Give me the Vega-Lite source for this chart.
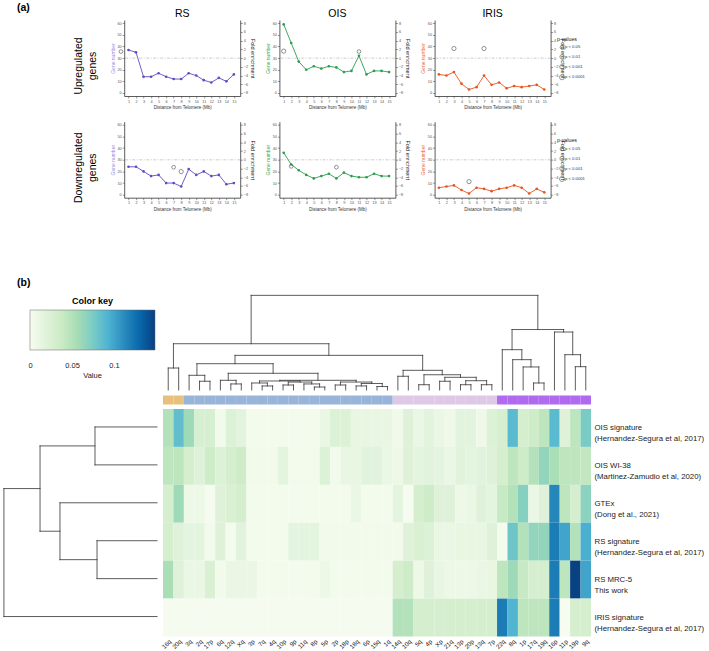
{
"$schema": "https://vega.github.io/schema/vega-lite/v6.json",
"padding": {"left": 0, "top": 2, "right": 0, "bottom": 0},
"config": {
 "view": {"stroke": null},
 "font": "Liberation Sans",
 "title": {"font": "Liberation Sans", "fontWeight": "normal", "color": "#000"},
 "axis": {"labelFont": "Liberation Sans", "titleFont": "Liberation Sans", "labelFontSize": 3.8, "titleFontSize": 5, "titleFontWeight": "normal", "tickSize": 2, "labelPadding": 1, "titlePadding": 1.5, "domainColor": "#333", "domainWidth": 0.8, "tickColor": "#333", "tickWidth": 0.5, "labelColor": "#555", "titleColor": "#333", "grid": false, "labelOverlap": false, "labelFlush": false},
 "legend": {"labelFont": "Liberation Sans", "titleFont": "Liberation Sans"}
},
"datasets": {
 "genes": [
  {"s":"RS","reg":"up","d":1,"g":37},{"s":"RS","reg":"up","d":2,"g":35},{"s":"RS","reg":"up","d":3,"g":14},{"s":"RS","reg":"up","d":4,"g":14},{"s":"RS","reg":"up","d":5,"g":17},{"s":"RS","reg":"up","d":6,"g":14},{"s":"RS","reg":"up","d":7,"g":12},{"s":"RS","reg":"up","d":8,"g":12},{"s":"RS","reg":"up","d":9,"g":17},{"s":"RS","reg":"up","d":10,"g":15},{"s":"RS","reg":"up","d":11,"g":11},{"s":"RS","reg":"up","d":12,"g":9},{"s":"RS","reg":"up","d":13,"g":13},{"s":"RS","reg":"up","d":14,"g":10},{"s":"RS","reg":"up","d":15,"g":16},
  {"s":"OIS","reg":"up","d":1,"g":59},{"s":"OIS","reg":"up","d":2,"g":43},{"s":"OIS","reg":"up","d":3,"g":27},{"s":"OIS","reg":"up","d":4,"g":20},{"s":"OIS","reg":"up","d":5,"g":23},{"s":"OIS","reg":"up","d":6,"g":21},{"s":"OIS","reg":"up","d":7,"g":23},{"s":"OIS","reg":"up","d":8,"g":22},{"s":"OIS","reg":"up","d":9,"g":18},{"s":"OIS","reg":"up","d":10,"g":19},{"s":"OIS","reg":"up","d":11,"g":32},{"s":"OIS","reg":"up","d":12,"g":16},{"s":"OIS","reg":"up","d":13,"g":19},{"s":"OIS","reg":"up","d":14,"g":19},{"s":"OIS","reg":"up","d":15,"g":18},
  {"s":"IRIS","reg":"up","d":1,"g":16},{"s":"IRIS","reg":"up","d":2,"g":15},{"s":"IRIS","reg":"up","d":3,"g":18},{"s":"IRIS","reg":"up","d":4,"g":8},{"s":"IRIS","reg":"up","d":5,"g":3},{"s":"IRIS","reg":"up","d":6,"g":5},{"s":"IRIS","reg":"up","d":7,"g":15},{"s":"IRIS","reg":"up","d":8,"g":7},{"s":"IRIS","reg":"up","d":9,"g":9},{"s":"IRIS","reg":"up","d":10,"g":4},{"s":"IRIS","reg":"up","d":11,"g":6},{"s":"IRIS","reg":"up","d":12,"g":5},{"s":"IRIS","reg":"up","d":13,"g":6},{"s":"IRIS","reg":"up","d":14,"g":7},{"s":"IRIS","reg":"up","d":15,"g":3},
  {"s":"RS","reg":"down","d":1,"g":24},{"s":"RS","reg":"down","d":2,"g":24},{"s":"RS","reg":"down","d":3,"g":20},{"s":"RS","reg":"down","d":4,"g":16},{"s":"RS","reg":"down","d":5,"g":17},{"s":"RS","reg":"down","d":6,"g":10},{"s":"RS","reg":"down","d":7,"g":10},{"s":"RS","reg":"down","d":8,"g":7},{"s":"RS","reg":"down","d":9,"g":22},{"s":"RS","reg":"down","d":10,"g":17},{"s":"RS","reg":"down","d":11,"g":20},{"s":"RS","reg":"down","d":12,"g":16},{"s":"RS","reg":"down","d":13,"g":17},{"s":"RS","reg":"down","d":14,"g":9},{"s":"RS","reg":"down","d":15,"g":10},
  {"s":"OIS","reg":"down","d":1,"g":36},{"s":"OIS","reg":"down","d":2,"g":26},{"s":"OIS","reg":"down","d":3,"g":21},{"s":"OIS","reg":"down","d":4,"g":17},{"s":"OIS","reg":"down","d":5,"g":14},{"s":"OIS","reg":"down","d":6,"g":16},{"s":"OIS","reg":"down","d":7,"g":18},{"s":"OIS","reg":"down","d":8,"g":14},{"s":"OIS","reg":"down","d":9,"g":19},{"s":"OIS","reg":"down","d":10,"g":16},{"s":"OIS","reg":"down","d":11,"g":15},{"s":"OIS","reg":"down","d":12,"g":15},{"s":"OIS","reg":"down","d":13,"g":18},{"s":"OIS","reg":"down","d":14,"g":16},{"s":"OIS","reg":"down","d":15,"g":16},
  {"s":"IRIS","reg":"down","d":1,"g":6},{"s":"IRIS","reg":"down","d":2,"g":7},{"s":"IRIS","reg":"down","d":3,"g":8},{"s":"IRIS","reg":"down","d":4,"g":4},{"s":"IRIS","reg":"down","d":5,"g":1},{"s":"IRIS","reg":"down","d":6,"g":6},{"s":"IRIS","reg":"down","d":7,"g":5},{"s":"IRIS","reg":"down","d":8,"g":3},{"s":"IRIS","reg":"down","d":9,"g":5},{"s":"IRIS","reg":"down","d":10,"g":6},{"s":"IRIS","reg":"down","d":11,"g":8},{"s":"IRIS","reg":"down","d":12,"g":6},{"s":"IRIS","reg":"down","d":13,"g":1},{"s":"IRIS","reg":"down","d":14,"g":5},{"s":"IRIS","reg":"down","d":15,"g":2}
 ],
 "pv": [
  {"s":"RS","reg":"up","d":0,"f":1.5,"p":"p < 0.05"},
  {"s":"OIS","reg":"up","d":1,"f":1.6,"p":"p < 0.01"},
  {"s":"OIS","reg":"up","d":11,"f":1.5,"p":"p < 0.05"},
  {"s":"IRIS","reg":"up","d":3,"f":2.2,"p":"p < 0.01"},
  {"s":"IRIS","reg":"up","d":7,"f":2.2,"p":"p < 0.01"},
  {"s":"RS","reg":"down","d":7,"f":-1.7,"p":"p < 0.05"},
  {"s":"RS","reg":"down","d":8,"f":-2.7,"p":"p < 0.01"},
  {"s":"OIS","reg":"down","d":2,"f":-1.5,"p":"p < 0.05"},
  {"s":"OIS","reg":"down","d":8,"f":-1.7,"p":"p < 0.05"},
  {"s":"IRIS","reg":"down","d":5,"f":-5.0,"p":"p < 0.01"}
 ],
 "arms": [
  {"c":"16q","grp":"A"},{"c":"20q","grp":"A"},
  {"c":"3q","grp":"B"},{"c":"2q","grp":"B"},{"c":"17p","grp":"B"},{"c":"6q","grp":"B"},{"c":"12q","grp":"B"},{"c":"Xq","grp":"B"},{"c":"3p","grp":"B"},{"c":"7q","grp":"B"},{"c":"4q","grp":"B"},{"c":"10p","grp":"B"},{"c":"9p","grp":"B"},{"c":"11q","grp":"B"},{"c":"8p","grp":"B"},{"c":"5p","grp":"B"},{"c":"2p","grp":"B"},{"c":"18p","grp":"B"},{"c":"18q","grp":"B"},{"c":"6p","grp":"B"},{"c":"15q","grp":"B"},{"c":"1q","grp":"B"},
  {"c":"14q","grp":"C"},{"c":"10q","grp":"C"},{"c":"5q","grp":"C"},{"c":"4p","grp":"C"},{"c":"Xp","grp":"C"},{"c":"21q","grp":"C"},{"c":"13p","grp":"C"},{"c":"20p","grp":"C"},{"c":"13q","grp":"C"},{"c":"7p","grp":"C"},
  {"c":"22q","grp":"D"},{"c":"8q","grp":"D"},{"c":"1p","grp":"D"},{"c":"17q","grp":"D"},{"c":"19q","grp":"D"},{"c":"16p","grp":"D"},{"c":"11p","grp":"D"},{"c":"19p","grp":"D"},{"c":"9q","grp":"D"}
 ],
 "heat": [
  {"r":"OIS signature","c":"16q","v":0.05},{"r":"OIS signature","c":"20q","v":0.085},{"r":"OIS signature","c":"3q","v":0.06},{"r":"OIS signature","c":"2q","v":0.028},{"r":"OIS signature","c":"17p","v":0.028},{"r":"OIS signature","c":"6q","v":0.004},{"r":"OIS signature","c":"12q","v":0.022},{"r":"OIS signature","c":"Xq","v":0.017},{"r":"OIS signature","c":"3p","v":0.003},{"r":"OIS signature","c":"7q","v":0.003},{"r":"OIS signature","c":"4q","v":0.003},{"r":"OIS signature","c":"10p","v":0.003},{"r":"OIS signature","c":"9p","v":0.003},{"r":"OIS signature","c":"11q","v":0.003},{"r":"OIS signature","c":"8p","v":0.003},{"r":"OIS signature","c":"5p","v":0.01},{"r":"OIS signature","c":"2p","v":0.022},{"r":"OIS signature","c":"18p","v":0.022},{"r":"OIS signature","c":"18q","v":0.012},{"r":"OIS signature","c":"6p","v":0.012},{"r":"OIS signature","c":"15q","v":0.012},{"r":"OIS signature","c":"1q","v":0.012},{"r":"OIS signature","c":"14q","v":0.005},{"r":"OIS signature","c":"10q","v":0.02},{"r":"OIS signature","c":"5q","v":0.011},{"r":"OIS signature","c":"4p","v":0.016},{"r":"OIS signature","c":"Xp","v":0.01},{"r":"OIS signature","c":"21q","v":0.006},{"r":"OIS signature","c":"13p","v":0.016},{"r":"OIS signature","c":"20p","v":0.016},{"r":"OIS signature","c":"13q","v":0.006},{"r":"OIS signature","c":"7p","v":0.022},{"r":"OIS signature","c":"22q","v":0.028},{"r":"OIS signature","c":"8q","v":0.088},{"r":"OIS signature","c":"1p","v":0.03},{"r":"OIS signature","c":"17q","v":0.035},{"r":"OIS signature","c":"19q","v":0.045},{"r":"OIS signature","c":"16p","v":0.088},{"r":"OIS signature","c":"11p","v":0.02},{"r":"OIS signature","c":"19p","v":0.045},{"r":"OIS signature","c":"9q","v":0.075},
  {"r":"OIS WI-38","c":"16q","v":0.045},{"r":"OIS WI-38","c":"20q","v":0.045},{"r":"OIS WI-38","c":"3q","v":0.03},{"r":"OIS WI-38","c":"2q","v":0.02},{"r":"OIS WI-38","c":"17p","v":0.035},{"r":"OIS WI-38","c":"6q","v":0.022},{"r":"OIS WI-38","c":"12q","v":0.03},{"r":"OIS WI-38","c":"Xq","v":0.035},{"r":"OIS WI-38","c":"3p","v":0.004},{"r":"OIS WI-38","c":"7q","v":0.004},{"r":"OIS WI-38","c":"4q","v":0.004},{"r":"OIS WI-38","c":"10p","v":0.015},{"r":"OIS WI-38","c":"9p","v":0.004},{"r":"OIS WI-38","c":"11q","v":0.004},{"r":"OIS WI-38","c":"8p","v":0.004},{"r":"OIS WI-38","c":"5p","v":0.022},{"r":"OIS WI-38","c":"2p","v":0.004},{"r":"OIS WI-38","c":"18p","v":0.012},{"r":"OIS WI-38","c":"18q","v":0.012},{"r":"OIS WI-38","c":"6p","v":0.018},{"r":"OIS WI-38","c":"15q","v":0.018},{"r":"OIS WI-38","c":"1q","v":0.01},{"r":"OIS WI-38","c":"14q","v":0.008},{"r":"OIS WI-38","c":"10q","v":0.02},{"r":"OIS WI-38","c":"5q","v":0.015},{"r":"OIS WI-38","c":"4p","v":0.018},{"r":"OIS WI-38","c":"Xp","v":0.015},{"r":"OIS WI-38","c":"21q","v":0.01},{"r":"OIS WI-38","c":"13p","v":0.018},{"r":"OIS WI-38","c":"20p","v":0.015},{"r":"OIS WI-38","c":"13q","v":0.018},{"r":"OIS WI-38","c":"7p","v":0.02},{"r":"OIS WI-38","c":"22q","v":0.03},{"r":"OIS WI-38","c":"8q","v":0.045},{"r":"OIS WI-38","c":"1p","v":0.035},{"r":"OIS WI-38","c":"17q","v":0.05},{"r":"OIS WI-38","c":"19q","v":0.065},{"r":"OIS WI-38","c":"16p","v":0.055},{"r":"OIS WI-38","c":"11p","v":0.045},{"r":"OIS WI-38","c":"19p","v":0.045},{"r":"OIS WI-38","c":"9q","v":0.042},
  {"r":"GTEx","c":"16q","v":0.03},{"r":"GTEx","c":"20q","v":0.06},{"r":"GTEx","c":"3q","v":0.008},{"r":"GTEx","c":"2q","v":0.008},{"r":"GTEx","c":"17p","v":0.002},{"r":"GTEx","c":"6q","v":0.02},{"r":"GTEx","c":"12q","v":0.025},{"r":"GTEx","c":"Xq","v":0.03},{"r":"GTEx","c":"3p","v":0.003},{"r":"GTEx","c":"7q","v":0.003},{"r":"GTEx","c":"4q","v":0.003},{"r":"GTEx","c":"10p","v":0.003},{"r":"GTEx","c":"9p","v":0.003},{"r":"GTEx","c":"11q","v":0.003},{"r":"GTEx","c":"8p","v":0.003},{"r":"GTEx","c":"5p","v":0.003},{"r":"GTEx","c":"2p","v":0.003},{"r":"GTEx","c":"18p","v":0.003},{"r":"GTEx","c":"18q","v":0.01},{"r":"GTEx","c":"6p","v":0.003},{"r":"GTEx","c":"15q","v":0.003},{"r":"GTEx","c":"1q","v":0.003},{"r":"GTEx","c":"14q","v":0.015},{"r":"GTEx","c":"10q","v":0.002},{"r":"GTEx","c":"5q","v":0.03},{"r":"GTEx","c":"4p","v":0.035},{"r":"GTEx","c":"Xp","v":0.02},{"r":"GTEx","c":"21q","v":0.02},{"r":"GTEx","c":"13p","v":0.008},{"r":"GTEx","c":"20p","v":0.01},{"r":"GTEx","c":"13q","v":0.02},{"r":"GTEx","c":"7p","v":0.015},{"r":"GTEx","c":"22q","v":0.04},{"r":"GTEx","c":"8q","v":0.05},{"r":"GTEx","c":"1p","v":0.07},{"r":"GTEx","c":"17q","v":0.01},{"r":"GTEx","c":"19q","v":0.02},{"r":"GTEx","c":"16p","v":0.115},{"r":"GTEx","c":"11p","v":0.045},{"r":"GTEx","c":"19p","v":0.03},{"r":"GTEx","c":"9q","v":0.068},
  {"r":"RS signature","c":"16q","v":0.03},{"r":"RS signature","c":"20q","v":0.02},{"r":"RS signature","c":"3q","v":0.015},{"r":"RS signature","c":"2q","v":0.015},{"r":"RS signature","c":"17p","v":0.004},{"r":"RS signature","c":"6q","v":0.02},{"r":"RS signature","c":"12q","v":0.003},{"r":"RS signature","c":"Xq","v":0.018},{"r":"RS signature","c":"3p","v":0.003},{"r":"RS signature","c":"7q","v":0.003},{"r":"RS signature","c":"4q","v":0.003},{"r":"RS signature","c":"10p","v":0.003},{"r":"RS signature","c":"9p","v":0.015},{"r":"RS signature","c":"11q","v":0.015},{"r":"RS signature","c":"8p","v":0.015},{"r":"RS signature","c":"5p","v":0.004},{"r":"RS signature","c":"2p","v":0.004},{"r":"RS signature","c":"18p","v":0.004},{"r":"RS signature","c":"18q","v":0.004},{"r":"RS signature","c":"6p","v":0.004},{"r":"RS signature","c":"15q","v":0.004},{"r":"RS signature","c":"1q","v":0.004},{"r":"RS signature","c":"14q","v":0.004},{"r":"RS signature","c":"10q","v":0.02},{"r":"RS signature","c":"5q","v":0.025},{"r":"RS signature","c":"4p","v":0.022},{"r":"RS signature","c":"Xp","v":0.01},{"r":"RS signature","c":"21q","v":0.01},{"r":"RS signature","c":"13p","v":0.012},{"r":"RS signature","c":"20p","v":0.012},{"r":"RS signature","c":"13q","v":0.012},{"r":"RS signature","c":"7p","v":0.02},{"r":"RS signature","c":"22q","v":0.003},{"r":"RS signature","c":"8q","v":0.08},{"r":"RS signature","c":"1p","v":0.05},{"r":"RS signature","c":"17q","v":0.065},{"r":"RS signature","c":"19q","v":0.065},{"r":"RS signature","c":"16p","v":0.12},{"r":"RS signature","c":"11p","v":0.1},{"r":"RS signature","c":"19p","v":0.05},{"r":"RS signature","c":"9q","v":0.095},
  {"r":"RS MRC-5","c":"16q","v":0.055},{"r":"RS MRC-5","c":"20q","v":0.02},{"r":"RS MRC-5","c":"3q","v":0.01},{"r":"RS MRC-5","c":"2q","v":0.01},{"r":"RS MRC-5","c":"17p","v":0.025},{"r":"RS MRC-5","c":"6q","v":0.004},{"r":"RS MRC-5","c":"12q","v":0.01},{"r":"RS MRC-5","c":"Xq","v":0.01},{"r":"RS MRC-5","c":"3p","v":0.01},{"r":"RS MRC-5","c":"7q","v":0.003},{"r":"RS MRC-5","c":"4q","v":0.003},{"r":"RS MRC-5","c":"10p","v":0.003},{"r":"RS MRC-5","c":"9p","v":0.003},{"r":"RS MRC-5","c":"11q","v":0.003},{"r":"RS MRC-5","c":"8p","v":0.003},{"r":"RS MRC-5","c":"5p","v":0.008},{"r":"RS MRC-5","c":"2p","v":0.003},{"r":"RS MRC-5","c":"18p","v":0.003},{"r":"RS MRC-5","c":"18q","v":0.003},{"r":"RS MRC-5","c":"6p","v":0.003},{"r":"RS MRC-5","c":"15q","v":0.003},{"r":"RS MRC-5","c":"1q","v":0.003},{"r":"RS MRC-5","c":"14q","v":0.03},{"r":"RS MRC-5","c":"10q","v":0.035},{"r":"RS MRC-5","c":"5q","v":0.008},{"r":"RS MRC-5","c":"4p","v":0.02},{"r":"RS MRC-5","c":"Xp","v":0.012},{"r":"RS MRC-5","c":"21q","v":0.008},{"r":"RS MRC-5","c":"13p","v":0.008},{"r":"RS MRC-5","c":"20p","v":0.008},{"r":"RS MRC-5","c":"13q","v":0.01},{"r":"RS MRC-5","c":"7p","v":0.012},{"r":"RS MRC-5","c":"22q","v":0.045},{"r":"RS MRC-5","c":"8q","v":0.06},{"r":"RS MRC-5","c":"1p","v":0.04},{"r":"RS MRC-5","c":"17q","v":0.03},{"r":"RS MRC-5","c":"19q","v":0.03},{"r":"RS MRC-5","c":"16p","v":0.12},{"r":"RS MRC-5","c":"11p","v":0.045},{"r":"RS MRC-5","c":"19p","v":0.148},{"r":"RS MRC-5","c":"9q","v":0.1},
  {"r":"IRIS signature","c":"16q","v":0.002},{"r":"IRIS signature","c":"20q","v":0.002},{"r":"IRIS signature","c":"3q","v":0.002},{"r":"IRIS signature","c":"2q","v":0.002},{"r":"IRIS signature","c":"17p","v":0.002},{"r":"IRIS signature","c":"6q","v":0.002},{"r":"IRIS signature","c":"12q","v":0.002},{"r":"IRIS signature","c":"Xq","v":0.002},{"r":"IRIS signature","c":"3p","v":0.002},{"r":"IRIS signature","c":"7q","v":0.002},{"r":"IRIS signature","c":"4q","v":0.002},{"r":"IRIS signature","c":"10p","v":0.002},{"r":"IRIS signature","c":"9p","v":0.002},{"r":"IRIS signature","c":"11q","v":0.002},{"r":"IRIS signature","c":"8p","v":0.002},{"r":"IRIS signature","c":"5p","v":0.002},{"r":"IRIS signature","c":"2p","v":0.002},{"r":"IRIS signature","c":"18p","v":0.002},{"r":"IRIS signature","c":"18q","v":0.002},{"r":"IRIS signature","c":"6p","v":0.002},{"r":"IRIS signature","c":"15q","v":0.002},{"r":"IRIS signature","c":"1q","v":0.002},{"r":"IRIS signature","c":"14q","v":0.05},{"r":"IRIS signature","c":"10q","v":0.05},{"r":"IRIS signature","c":"5q","v":0.03},{"r":"IRIS signature","c":"4p","v":0.03},{"r":"IRIS signature","c":"Xp","v":0.03},{"r":"IRIS signature","c":"21q","v":0.03},{"r":"IRIS signature","c":"13p","v":0.03},{"r":"IRIS signature","c":"20p","v":0.03},{"r":"IRIS signature","c":"13q","v":0.03},{"r":"IRIS signature","c":"7p","v":0.03},{"r":"IRIS signature","c":"22q","v":0.12},{"r":"IRIS signature","c":"8q","v":0.092},{"r":"IRIS signature","c":"1p","v":0.045},{"r":"IRIS signature","c":"17q","v":0.045},{"r":"IRIS signature","c":"19q","v":0.045},{"r":"IRIS signature","c":"16p","v":0.12},{"r":"IRIS signature","c":"11p","v":0.001},{"r":"IRIS signature","c":"19p","v":0.03},{"r":"IRIS signature","c":"9q","v":0.03}
 ],
 "cden": [
  {"xl":1,"xr":2,"h":0.229,"hl":0,"hr":0},
  {"xl":4,"xr":5,"h":0.091,"hl":0,"hr":0},
  {"xl":3,"xr":4.5,"h":0.153,"hl":0,"hr":0.091},
  {"xl":7,"xr":8,"h":0.063,"hl":0,"hr":0},
  {"xl":6,"xr":7.5,"h":0.101,"hl":0,"hr":0.063},
  {"xl":10,"xr":11,"h":0.042,"hl":0,"hr":0},
  {"xl":9,"xr":10.5,"h":0.073,"hl":0,"hr":0.042},
  {"xl":12,"xr":13,"h":0.052,"hl":0,"hr":0},
  {"xl":15,"xr":16,"h":0.031,"hl":0,"hr":0},
  {"xl":14,"xr":15.5,"h":0.063,"hl":0,"hr":0.031},
  {"xl":12.5,"xr":14.75,"h":0.083,"hl":0.052,"hr":0.063},
  {"xl":9.75,"xr":13.625,"h":0.094,"hl":0.073,"hr":0.083},
  {"xl":17,"xr":18,"h":0.052,"hl":0,"hr":0},
  {"xl":19,"xr":20,"h":0.042,"hl":0,"hr":0},
  {"xl":21,"xr":22,"h":0.036,"hl":0,"hr":0},
  {"xl":19.5,"xr":21.5,"h":0.068,"hl":0.042,"hr":0.036},
  {"xl":17.5,"xr":20.5,"h":0.083,"hl":0.052,"hr":0.068},
  {"xl":11.6875,"xr":19,"h":0.101,"hl":0.094,"hr":0.083},
  {"xl":6.75,"xr":15.34375,"h":0.174,"hl":0.101,"hr":0.101},
  {"xl":3.75,"xr":11.046875,"h":0.274,"hl":0.153,"hr":0.174},
  {"xl":23,"xr":24,"h":0.143,"hl":0,"hr":0},
  {"xl":25,"xr":26,"h":0.055,"hl":0,"hr":0},
  {"xl":27,"xr":28,"h":0.091,"hl":0,"hr":0},
  {"xl":29,"xr":30,"h":0.055,"hl":0,"hr":0},
  {"xl":31,"xr":32,"h":0.055,"hl":0,"hr":0},
  {"xl":29.5,"xr":31.5,"h":0.097,"hl":0.055,"hr":0.055},
  {"xl":27.5,"xr":30.5,"h":0.132,"hl":0.091,"hr":0.097},
  {"xl":25.5,"xr":29,"h":0.159,"hl":0.055,"hr":0.132},
  {"xl":23.5,"xr":27.25,"h":0.205,"hl":0.143,"hr":0.159},
  {"xl":7.3984,"xr":25.375,"h":0.361,"hl":0.274,"hr":0.205},
  {"xl":1.5,"xr":16.3867,"h":0.482,"hl":0.229,"hr":0.361},
  {"xl":36,"xr":37,"h":0.073,"hl":0,"hr":0},
  {"xl":35,"xr":36.5,"h":0.24,"hl":0,"hr":0.073},
  {"xl":34,"xr":35.75,"h":0.316,"hl":0,"hr":0.24},
  {"xl":33,"xr":34.875,"h":0.42,"hl":0,"hr":0.316},
  {"xl":40,"xr":41,"h":0.243,"hl":0,"hr":0},
  {"xl":39,"xr":40.5,"h":0.368,"hl":0,"hr":0.243},
  {"xl":38,"xr":39.75,"h":0.604,"hl":0,"hr":0.368},
  {"xl":33.9375,"xr":38.875,"h":0.63,"hl":0.42,"hr":0.604},
  {"xl":8.9434,"xr":36.40625,"h":0.986,"hl":0.482,"hr":0.63}
 ],
 "rden": [
  {"yl":1,"yr":2,"h":0.395,"hl":0,"hr":0},
  {"yl":4,"yr":5,"h":0.382,"hl":0,"hr":0},
  {"yl":3,"yr":4.5,"h":0.618,"hl":0,"hr":0.382},
  {"yl":1.5,"yr":3.75,"h":0.745,"hl":0.395,"hr":0.618},
  {"yl":2.625,"yr":6,"h":0.975,"hl":0.745,"hr":0}
 ]
},
"vconcat": [
 {
  "vconcat": [
   {
    "hconcat": [
     {"width": 84.2, "height": 92,
      "title": {"text": "(a)", "anchor": "start", "dx": 17, "fontSize": 10.5, "fontWeight": "bold", "offset": 7},
      "data": {"values": [{"t": "Upregulated genes"}]},
      "mark": {"type": "text", "angle": 270, "baseline": "bottom", "align": "center", "lineBreak": " ", "fontSize": 10.5, "lineHeight": 14, "color": "#000"},
      "encoding": {"text": {"field": "t"}, "x": {"value": "width"}}},
     {"width": 116, "height": 76, "title": {"text": "RS", "fontSize": 10.5, "offset": 1},
      "layer": [
       {"data": {"name": "genes"}, "transform": [{"filter": "datum.s=='RS' && datum.reg=='up'"}],
        "mark": {"type": "line", "color": "#5B4EC2", "strokeWidth": 0.9, "point": {"filled": true, "size": 7, "color": "#5B4EC2"}},
        "encoding": {"x": {"field": "d", "type": "quantitative", "scale": {"domain": [0.43, 15.84], "nice": false, "zero": false}, "axis": {"values": [1,2,3,4,5,6,7,8,9,10,11,12,13,14,15], "title": "Distance from Telomere (Mb)", "titleFontSize": 4.5}},
                     "y": {"field": "g", "type": "quantitative", "scale": {"domain": [-2.6, 62.8], "nice": false, "zero": false}, "axis": {"values": [0,10,20,30,40,50,60], "title": "Gene number", "titleColor": "#9B8EE0"}}}},
       {"layer": [
         {"data": {"values": [{"f": 0}]}, "mark": {"type": "rule", "color": "#aaa", "strokeWidth": 0.6, "strokeDash": [3, 1.5, 1, 1.5]},
          "encoding": {"y": {"field": "f", "type": "quantitative", "scale": {"domain": [-8.693, 8.747], "nice": false, "zero": false}, "axis": {"orient": "right", "values": [-8,-6,-4,-2,0,2,4,6,8], "title": "Fold enrichment", "titleColor": "#111", "titleFontSize": 5.5}}}},
         {"data": {"name": "pv"}, "transform": [{"filter": "datum.s=='RS' && datum.reg=='up'"}],
          "mark": {"type": "point", "shape": "circle", "filled": false, "color": "#666", "strokeWidth": 0.7, "opacity": 1},
          "encoding": {"x": {"field": "d", "type": "quantitative", "scale": {"domain": [0.43, 15.84], "nice": false, "zero": false}, "axis": {"values": [1,2,3,4,5,6,7,8,9,10,11,12,13,14,15], "title": "Distance from Telomere (Mb)", "titleFontSize": 4.5}},
                       "y": {"field": "f", "type": "quantitative", "scale": {"domain": [-8.693, 8.747], "nice": false, "zero": false}, "axis": {"orient": "right", "values": [-8,-6,-4,-2,0,2,4,6,8], "title": "Fold enrichment", "titleColor": "#111", "titleFontSize": 5.5}},
                       "size": {"field": "p", "type": "ordinal", "scale": {"domain": ["p < 0.05","p < 0.01","p < 0.001","p < 0.0001"], "range": [14, 25, 45, 100]},
                                "legend": {"title": "p-values", "orient": "none", "legendX": 557, "legendY": 16.5, "titleFontSize": 5.3, "titleFontWeight": "normal", "titleColor": "#222", "labelFontSize": 4.2, "labelColor": "#333", "symbolStrokeColor": "#555", "symbolStrokeWidth": 0.6, "symbolFillColor": "transparent", "symbolType": "circle", "symbolOffset": 2, "labelOffset": 0, "rowPadding": 2.5, "titlePadding": 3}}}}
       ]}
      ],
      "resolve": {"scale": {"y": "independent"}}},
     {"width": 116, "height": 76, "title": {"text": "OIS", "fontSize": 10.5, "offset": 1},
      "layer": [
       {"data": {"name": "genes"}, "transform": [{"filter": "datum.s=='OIS' && datum.reg=='up'"}],
        "mark": {"type": "line", "color": "#2E9D4E", "strokeWidth": 0.9, "point": {"filled": true, "size": 7, "color": "#2E9D4E"}},
        "encoding": {"x": {"field": "d", "type": "quantitative", "scale": {"domain": [0.43, 15.84], "nice": false, "zero": false}, "axis": {"values": [1,2,3,4,5,6,7,8,9,10,11,12,13,14,15], "title": "Distance from Telomere (Mb)", "titleFontSize": 4.5}},
                     "y": {"field": "g", "type": "quantitative", "scale": {"domain": [-2.6, 62.8], "nice": false, "zero": false}, "axis": {"values": [0,10,20,30,40,50,60], "title": "Gene number", "titleColor": "#3BAA5A"}}}},
       {"layer": [
         {"data": {"values": [{"f": 0}]}, "mark": {"type": "rule", "color": "#aaa", "strokeWidth": 0.6, "strokeDash": [3, 1.5, 1, 1.5]},
          "encoding": {"y": {"field": "f", "type": "quantitative", "scale": {"domain": [-8.693, 8.747], "nice": false, "zero": false}, "axis": {"orient": "right", "values": [-8,-6,-4,-2,0,2,4,6,8], "title": "Fold enrichment", "titleColor": "#111", "titleFontSize": 5.5}}}},
         {"data": {"name": "pv"}, "transform": [{"filter": "datum.s=='OIS' && datum.reg=='up'"}],
          "mark": {"type": "point", "shape": "circle", "filled": false, "color": "#666", "strokeWidth": 0.7, "opacity": 1},
          "encoding": {"x": {"field": "d", "type": "quantitative", "scale": {"domain": [0.43, 15.84], "nice": false, "zero": false}, "axis": {"values": [1,2,3,4,5,6,7,8,9,10,11,12,13,14,15], "title": "Distance from Telomere (Mb)", "titleFontSize": 4.5}},
                       "y": {"field": "f", "type": "quantitative", "scale": {"domain": [-8.693, 8.747], "nice": false, "zero": false}, "axis": {"orient": "right", "values": [-8,-6,-4,-2,0,2,4,6,8], "title": "Fold enrichment", "titleColor": "#111", "titleFontSize": 5.5}},
                       "size": {"field": "p", "type": "ordinal", "scale": {"domain": ["p < 0.05","p < 0.01","p < 0.001","p < 0.0001"], "range": [14, 25, 45, 100]},
                                "legend": {"title": "p-values", "orient": "none", "legendX": 557, "legendY": 16.5, "titleFontSize": 5.3, "titleFontWeight": "normal", "titleColor": "#222", "labelFontSize": 4.2, "labelColor": "#333", "symbolStrokeColor": "#555", "symbolStrokeWidth": 0.6, "symbolFillColor": "transparent", "symbolType": "circle", "symbolOffset": 2, "labelOffset": 0, "rowPadding": 2.5, "titlePadding": 3}}}}
       ]}
      ],
      "resolve": {"scale": {"y": "independent"}}},
     {"width": 116, "height": 76, "title": {"text": "IRIS", "fontSize": 10.5, "offset": 1},
      "layer": [
       {"data": {"name": "genes"}, "transform": [{"filter": "datum.s=='IRIS' && datum.reg=='up'"}],
        "mark": {"type": "line", "color": "#E8541E", "strokeWidth": 0.9, "point": {"filled": true, "size": 7, "color": "#E8541E"}},
        "encoding": {"x": {"field": "d", "type": "quantitative", "scale": {"domain": [0.43, 15.84], "nice": false, "zero": false}, "axis": {"values": [1,2,3,4,5,6,7,8,9,10,11,12,13,14,15], "title": "Distance from Telomere (Mb)", "titleFontSize": 4.5}},
                     "y": {"field": "g", "type": "quantitative", "scale": {"domain": [-2.6, 62.8], "nice": false, "zero": false}, "axis": {"values": [0,10,20,30,40,50,60], "title": "Gene number", "titleColor": "#EE6A30"}}}},
       {"layer": [
         {"data": {"values": [{"f": 0}]}, "mark": {"type": "rule", "color": "#aaa", "strokeWidth": 0.6, "strokeDash": [3, 1.5, 1, 1.5]},
          "encoding": {"y": {"field": "f", "type": "quantitative", "scale": {"domain": [-8.693, 8.747], "nice": false, "zero": false}, "axis": {"orient": "right", "values": [-8,-6,-4,-2,0,2,4,6,8], "title": "Fold enrichment", "titleColor": "#111", "titleFontSize": 5.5}}}},
         {"data": {"name": "pv"}, "transform": [{"filter": "datum.s=='IRIS' && datum.reg=='up'"}],
          "mark": {"type": "point", "shape": "circle", "filled": false, "color": "#666", "strokeWidth": 0.7, "opacity": 1},
          "encoding": {"x": {"field": "d", "type": "quantitative", "scale": {"domain": [0.43, 15.84], "nice": false, "zero": false}, "axis": {"values": [1,2,3,4,5,6,7,8,9,10,11,12,13,14,15], "title": "Distance from Telomere (Mb)", "titleFontSize": 4.5}},
                       "y": {"field": "f", "type": "quantitative", "scale": {"domain": [-8.693, 8.747], "nice": false, "zero": false}, "axis": {"orient": "right", "values": [-8,-6,-4,-2,0,2,4,6,8], "title": "Fold enrichment", "titleColor": "#111", "titleFontSize": 5.5}},
                       "size": {"field": "p", "type": "ordinal", "scale": {"domain": ["p < 0.05","p < 0.01","p < 0.001","p < 0.0001"], "range": [14, 25, 45, 100]},
                                "legend": {"title": "p-values", "orient": "none", "legendX": 557, "legendY": 16.5, "titleFontSize": 5.3, "titleFontWeight": "normal", "titleColor": "#222", "labelFontSize": 4.2, "labelColor": "#333", "symbolStrokeColor": "#555", "symbolStrokeWidth": 0.6, "symbolFillColor": "transparent", "symbolType": "circle", "symbolOffset": 2, "labelOffset": 0, "rowPadding": 2.5, "titlePadding": 3}}}}
       ]}
      ],
      "resolve": {"scale": {"y": "independent"}}}
    ],
    "spacing": 11.2
   },
   {
    "hconcat": [
     {"width": 84.2, "height": 92,
      "data": {"values": [{"t": "Downregulated genes"}]},
      "mark": {"type": "text", "angle": 270, "baseline": "bottom", "align": "center", "lineBreak": " ", "fontSize": 10.5, "lineHeight": 14, "color": "#000"},
      "encoding": {"text": {"field": "t"}, "x": {"value": "width"}}},
     {"width": 116, "height": 76,
      "layer": [
       {"data": {"name": "genes"}, "transform": [{"filter": "datum.s=='RS' && datum.reg=='down'"}],
        "mark": {"type": "line", "color": "#5B4EC2", "strokeWidth": 0.9, "point": {"filled": true, "size": 7, "color": "#5B4EC2"}},
        "encoding": {"x": {"field": "d", "type": "quantitative", "scale": {"domain": [0.43, 15.84], "nice": false, "zero": false}, "axis": {"values": [1,2,3,4,5,6,7,8,9,10,11,12,13,14,15], "title": "Distance from Telomere (Mb)", "titleFontSize": 4.5}},
                     "y": {"field": "g", "type": "quantitative", "scale": {"domain": [-2.6, 62.8], "nice": false, "zero": false}, "axis": {"values": [0,10,20,30,40,50,60], "title": "Gene number", "titleColor": "#9B8EE0"}}}},
       {"layer": [
         {"data": {"values": [{"f": 0}]}, "mark": {"type": "rule", "color": "#aaa", "strokeWidth": 0.6, "strokeDash": [3, 1.5, 1, 1.5]},
          "encoding": {"y": {"field": "f", "type": "quantitative", "scale": {"domain": [-8.693, 8.747], "nice": false, "zero": false}, "axis": {"orient": "right", "values": [-8,-6,-4,-2,0,2,4,6,8], "title": "Fold enrichment", "titleColor": "#111", "titleFontSize": 5.5}}}},
         {"data": {"name": "pv"}, "transform": [{"filter": "datum.s=='RS' && datum.reg=='down'"}],
          "mark": {"type": "point", "shape": "circle", "filled": false, "color": "#666", "strokeWidth": 0.7, "opacity": 1},
          "encoding": {"x": {"field": "d", "type": "quantitative", "scale": {"domain": [0.43, 15.84], "nice": false, "zero": false}, "axis": {"values": [1,2,3,4,5,6,7,8,9,10,11,12,13,14,15], "title": "Distance from Telomere (Mb)", "titleFontSize": 4.5}},
                       "y": {"field": "f", "type": "quantitative", "scale": {"domain": [-8.693, 8.747], "nice": false, "zero": false}, "axis": {"orient": "right", "values": [-8,-6,-4,-2,0,2,4,6,8], "title": "Fold enrichment", "titleColor": "#111", "titleFontSize": 5.5}},
                       "size": {"field": "p", "type": "ordinal", "scale": {"domain": ["p < 0.05","p < 0.01","p < 0.001","p < 0.0001"], "range": [14, 25, 45, 100]},
                                "legend": {"title": "p-values", "orient": "none", "legendX": 557, "legendY": 16.5, "titleFontSize": 5.3, "titleFontWeight": "normal", "titleColor": "#222", "labelFontSize": 4.2, "labelColor": "#333", "symbolStrokeColor": "#555", "symbolStrokeWidth": 0.6, "symbolFillColor": "transparent", "symbolType": "circle", "symbolOffset": 2, "labelOffset": 0, "rowPadding": 2.5, "titlePadding": 3}}}}
       ]}
      ],
      "resolve": {"scale": {"y": "independent"}}},
     {"width": 116, "height": 76,
      "layer": [
       {"data": {"name": "genes"}, "transform": [{"filter": "datum.s=='OIS' && datum.reg=='down'"}],
        "mark": {"type": "line", "color": "#2E9D4E", "strokeWidth": 0.9, "point": {"filled": true, "size": 7, "color": "#2E9D4E"}},
        "encoding": {"x": {"field": "d", "type": "quantitative", "scale": {"domain": [0.43, 15.84], "nice": false, "zero": false}, "axis": {"values": [1,2,3,4,5,6,7,8,9,10,11,12,13,14,15], "title": "Distance from Telomere (Mb)", "titleFontSize": 4.5}},
                     "y": {"field": "g", "type": "quantitative", "scale": {"domain": [-2.6, 62.8], "nice": false, "zero": false}, "axis": {"values": [0,10,20,30,40,50,60], "title": "Gene number", "titleColor": "#3BAA5A"}}}},
       {"layer": [
         {"data": {"values": [{"f": 0}]}, "mark": {"type": "rule", "color": "#aaa", "strokeWidth": 0.6, "strokeDash": [3, 1.5, 1, 1.5]},
          "encoding": {"y": {"field": "f", "type": "quantitative", "scale": {"domain": [-8.693, 8.747], "nice": false, "zero": false}, "axis": {"orient": "right", "values": [-8,-6,-4,-2,0,2,4,6,8], "title": "Fold enrichment", "titleColor": "#111", "titleFontSize": 5.5}}}},
         {"data": {"name": "pv"}, "transform": [{"filter": "datum.s=='OIS' && datum.reg=='down'"}],
          "mark": {"type": "point", "shape": "circle", "filled": false, "color": "#666", "strokeWidth": 0.7, "opacity": 1},
          "encoding": {"x": {"field": "d", "type": "quantitative", "scale": {"domain": [0.43, 15.84], "nice": false, "zero": false}, "axis": {"values": [1,2,3,4,5,6,7,8,9,10,11,12,13,14,15], "title": "Distance from Telomere (Mb)", "titleFontSize": 4.5}},
                       "y": {"field": "f", "type": "quantitative", "scale": {"domain": [-8.693, 8.747], "nice": false, "zero": false}, "axis": {"orient": "right", "values": [-8,-6,-4,-2,0,2,4,6,8], "title": "Fold enrichment", "titleColor": "#111", "titleFontSize": 5.5}},
                       "size": {"field": "p", "type": "ordinal", "scale": {"domain": ["p < 0.05","p < 0.01","p < 0.001","p < 0.0001"], "range": [14, 25, 45, 100]},
                                "legend": {"title": "p-values", "orient": "none", "legendX": 557, "legendY": 16.5, "titleFontSize": 5.3, "titleFontWeight": "normal", "titleColor": "#222", "labelFontSize": 4.2, "labelColor": "#333", "symbolStrokeColor": "#555", "symbolStrokeWidth": 0.6, "symbolFillColor": "transparent", "symbolType": "circle", "symbolOffset": 2, "labelOffset": 0, "rowPadding": 2.5, "titlePadding": 3}}}}
       ]}
      ],
      "resolve": {"scale": {"y": "independent"}}},
     {"width": 116, "height": 76,
      "layer": [
       {"data": {"name": "genes"}, "transform": [{"filter": "datum.s=='IRIS' && datum.reg=='down'"}],
        "mark": {"type": "line", "color": "#E8541E", "strokeWidth": 0.9, "point": {"filled": true, "size": 7, "color": "#E8541E"}},
        "encoding": {"x": {"field": "d", "type": "quantitative", "scale": {"domain": [0.43, 15.84], "nice": false, "zero": false}, "axis": {"values": [1,2,3,4,5,6,7,8,9,10,11,12,13,14,15], "title": "Distance from Telomere (Mb)", "titleFontSize": 4.5}},
                     "y": {"field": "g", "type": "quantitative", "scale": {"domain": [-2.6, 62.8], "nice": false, "zero": false}, "axis": {"values": [0,10,20,30,40,50,60], "title": "Gene number", "titleColor": "#EE6A30"}}}},
       {"layer": [
         {"data": {"values": [{"f": 0}]}, "mark": {"type": "rule", "color": "#aaa", "strokeWidth": 0.6, "strokeDash": [3, 1.5, 1, 1.5]},
          "encoding": {"y": {"field": "f", "type": "quantitative", "scale": {"domain": [-8.693, 8.747], "nice": false, "zero": false}, "axis": {"orient": "right", "values": [-8,-6,-4,-2,0,2,4,6,8], "title": "Fold enrichment", "titleColor": "#111", "titleFontSize": 5.5}}}},
         {"data": {"name": "pv"}, "transform": [{"filter": "datum.s=='IRIS' && datum.reg=='down'"}],
          "mark": {"type": "point", "shape": "circle", "filled": false, "color": "#666", "strokeWidth": 0.7, "opacity": 1},
          "encoding": {"x": {"field": "d", "type": "quantitative", "scale": {"domain": [0.43, 15.84], "nice": false, "zero": false}, "axis": {"values": [1,2,3,4,5,6,7,8,9,10,11,12,13,14,15], "title": "Distance from Telomere (Mb)", "titleFontSize": 4.5}},
                       "y": {"field": "f", "type": "quantitative", "scale": {"domain": [-8.693, 8.747], "nice": false, "zero": false}, "axis": {"orient": "right", "values": [-8,-6,-4,-2,0,2,4,6,8], "title": "Fold enrichment", "titleColor": "#111", "titleFontSize": 5.5}},
                       "size": {"field": "p", "type": "ordinal", "scale": {"domain": ["p < 0.05","p < 0.01","p < 0.001","p < 0.0001"], "range": [14, 25, 45, 100]},
                                "legend": {"title": "p-values", "orient": "none", "legendX": 557, "legendY": 16.5, "titleFontSize": 5.3, "titleFontWeight": "normal", "titleColor": "#222", "labelFontSize": 4.2, "labelColor": "#333", "symbolStrokeColor": "#555", "symbolStrokeWidth": 0.6, "symbolFillColor": "transparent", "symbolType": "circle", "symbolOffset": 2, "labelOffset": 0, "rowPadding": 2.5, "titlePadding": 3}}}}
       ]}
      ],
      "resolve": {"scale": {"y": "independent"}}}
    ],
    "spacing": 11.2
   }
  ],
  "spacing": 9.7,
  "resolve": {"scale": {"size": "independent"}}
 },
 {
  "hconcat": [
   {
    "vconcat": [
     {
      "vconcat": [
       {"width": 155, "height": 1, "data": {"values": []}, "mark": "rect",
        "title": {"text": "(b)", "anchor": "start", "dx": 17, "fontSize": 10.5, "fontWeight": "bold", "offset": 6}},
       {"width": 155, "height": 40,
        "title": {"text": "Color key", "fontSize": 9, "fontWeight": "bold", "dx": 15, "offset": 4},
        "data": {"values": [{"lo": 0, "hi": 0.1488}]},
        "mark": {"type": "rect", "stroke": "#666", "strokeWidth": 0.5,
                 "color": {"gradient": "linear", "x1": 0, "y1": 0, "x2": 1, "y2": 0,
                           "stops": [{"offset": 0, "color": "#f7fcf0"}, {"offset": 0.125, "color": "#e0f3db"}, {"offset": 0.25, "color": "#ccebc5"}, {"offset": 0.375, "color": "#a8ddb5"}, {"offset": 0.5, "color": "#7bccc4"}, {"offset": 0.625, "color": "#4eb3d3"}, {"offset": 0.75, "color": "#2b8cbe"}, {"offset": 0.875, "color": "#0868ac"}, {"offset": 1, "color": "#084081"}]}},
        "encoding": {"x": {"field": "lo", "type": "quantitative", "scale": {"domain": [-0.0357, 0.1488], "nice": false, "zero": false},
                           "axis": {"values": [0, 0.05, 0.1], "format": "~g", "title": "Value", "titleX": 92, "labelFontSize": 7.5, "titleFontSize": 7.5, "labelColor": "#222", "titleColor": "#222", "domain": false, "ticks": false, "labelPadding": 11, "titlePadding": 3}},
                     "x2": {"field": "hi"}}}
      ],
      "spacing": 1
     },
     {"width": 157, "height": 227.5, "data": {"name": "rden"},
      "layer": [
       {"mark": {"type": "rule", "color": "#333", "strokeWidth": 0.8, "strokeCap": "square"},
        "encoding": {"x": {"field": "h", "type": "quantitative", "scale": {"domain": [0, 1], "reverse": true, "nice": false, "zero": false}, "axis": null},
                     "y": {"field": "yl", "type": "quantitative", "scale": {"domain": [0.5, 6.5], "reverse": true, "nice": false, "zero": false}, "axis": null},
                     "y2": {"field": "yr"}}},
       {"mark": {"type": "rule", "color": "#333", "strokeWidth": 0.8, "strokeCap": "square"},
        "encoding": {"y": {"field": "yl", "type": "quantitative", "scale": {"domain": [0.5, 6.5], "reverse": true, "nice": false, "zero": false}, "axis": null},
                     "x": {"field": "hl", "type": "quantitative", "scale": {"domain": [0, 1], "reverse": true, "nice": false, "zero": false}, "axis": null},
                     "x2": {"field": "h"}}},
       {"mark": {"type": "rule", "color": "#333", "strokeWidth": 0.8, "strokeCap": "square"},
        "encoding": {"y": {"field": "yr", "type": "quantitative", "scale": {"domain": [0.5, 6.5], "reverse": true, "nice": false, "zero": false}, "axis": null},
                     "x": {"field": "hr", "type": "quantitative", "scale": {"domain": [0, 1], "reverse": true, "nice": false, "zero": false}, "axis": null},
                     "x2": {"field": "h"}}}
      ]}
    ],
    "spacing": 29
   },
   {
    "vconcat": [
     {"width": 428, "height": 96, "data": {"name": "cden"},
      "layer": [
       {"mark": {"type": "rule", "color": "#333", "strokeWidth": 0.8, "strokeCap": "square"},
        "encoding": {"x": {"field": "xl", "type": "quantitative", "scale": {"domain": [0.5, 41.5], "nice": false, "zero": false}, "axis": null},
                     "x2": {"field": "xr"},
                     "y": {"field": "h", "type": "quantitative", "scale": {"domain": [0, 1], "nice": false, "zero": false}, "axis": null}}},
       {"mark": {"type": "rule", "color": "#333", "strokeWidth": 0.8, "strokeCap": "square"},
        "encoding": {"x": {"field": "xl", "type": "quantitative", "scale": {"domain": [0.5, 41.5], "nice": false, "zero": false}, "axis": null},
                     "y": {"field": "hl", "type": "quantitative", "scale": {"domain": [0, 1], "nice": false, "zero": false}, "axis": null},
                     "y2": {"field": "h"}}},
       {"mark": {"type": "rule", "color": "#333", "strokeWidth": 0.8, "strokeCap": "square"},
        "encoding": {"x": {"field": "xr", "type": "quantitative", "scale": {"domain": [0.5, 41.5], "nice": false, "zero": false}, "axis": null},
                     "y": {"field": "hr", "type": "quantitative", "scale": {"domain": [0, 1], "nice": false, "zero": false}, "axis": null},
                     "y2": {"field": "h"}}}
      ]},
     {"width": 428, "height": 9, "data": {"name": "arms"}, "mark": "rect",
      "encoding": {"x": {"field": "c", "type": "nominal", "sort": ["16q","20q","3q","2q","17p","6q","12q","Xq","3p","7q","4q","10p","9p","11q","8p","5p","2p","18p","18q","6p","15q","1q","14q","10q","5q","4p","Xp","21q","13p","20p","13q","7p","22q","8q","1p","17q","19q","16p","11p","19p","9q"], "axis": null},
                   "fill": {"field": "grp", "type": "nominal", "scale": {"domain": ["A","B","C","D"], "range": ["#E7C07B","#98B4D8","#DDC9E5","#B06AF0"]}, "legend": null}}},
     {"width": 428, "height": 227.5, "data": {"name": "heat"}, "mark": "rect",
      "encoding": {
       "x": {"field": "c", "type": "nominal", "sort": ["16q","20q","3q","2q","17p","6q","12q","Xq","3p","7q","4q","10p","9p","11q","8p","5p","2p","18p","18q","6p","15q","1q","14q","10q","5q","4p","Xp","21q","13p","20p","13q","7p","22q","8q","1p","17q","19q","16p","11p","19p","9q"],
             "axis": {"title": null, "labelAngle": -45, "labelFontSize": 6.2, "labelColor": "#111", "ticks": false, "domain": false, "labelPadding": 1.5}},
       "y": {"field": "r", "type": "nominal", "sort": ["OIS signature","OIS WI-38","GTEx","RS signature","RS MRC-5","IRIS signature"],
             "axis": {"orient": "right", "title": null, "labelFontSize": 7.8, "labelColor": "#222", "ticks": false, "domain": false, "labelPadding": 3, "labelLineHeight": 11, "labelLimit": 300,
                      "labelExpr": "datum.value == 'OIS WI-38' ? ['OIS WI-38', '(Martinez-Zamudio et al, 2020)'] : datum.value == 'GTEx' ? ['GTEx', '(Dong et al., 2021)'] : datum.value == 'RS MRC-5' ? ['RS MRC-5', 'This work'] : [datum.value, '(Hernandez-Segura et al, 2017)']"}},
       "color": {"field": "v", "type": "quantitative",
                 "scale": {"domain": [0, 0.018625, 0.03725, 0.055875, 0.0745, 0.093125, 0.11175, 0.130375, 0.149], "range": ["#f7fcf0","#e0f3db","#ccebc5","#a8ddb5","#7bccc4","#4eb3d3","#2b8cbe","#0868ac","#084081"], "interpolate": "rgb", "clamp": true},
                 "legend": null}}}
    ],
    "spacing": 4.5
   }
  ],
  "spacing": 2
 }
],
"spacing": 63,
"resolve": {"scale": {"size": "independent"}}
}
